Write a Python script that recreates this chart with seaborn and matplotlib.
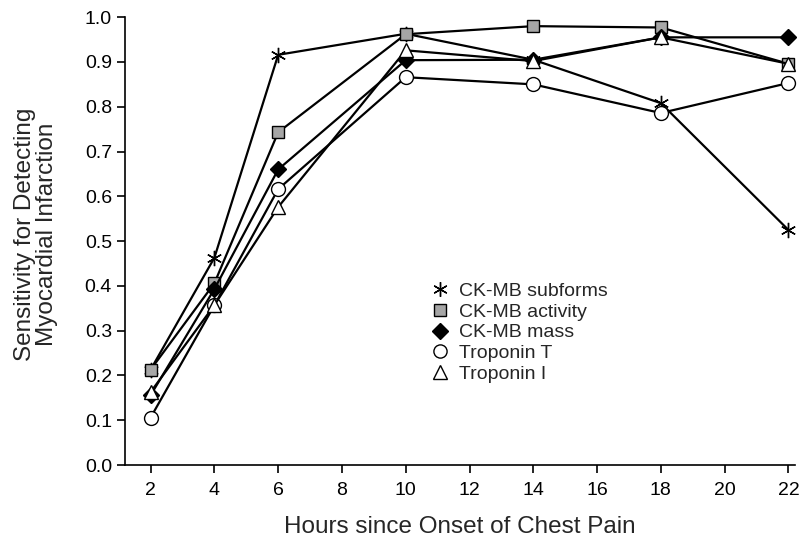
import pandas as pd
import seaborn as sns
import matplotlib.pyplot as plt
from matplotlib.lines import Line2D

hours = [2, 4, 6, 10, 14, 18, 22]
ckmb_subforms = [0.213, 0.463, 0.916, 0.963, 0.905, 0.808, 0.525]
ckmb_activity = [0.213, 0.406, 0.743, 0.962, 0.980, 0.977, 0.896]
ckmb_mass = [0.156, 0.393, 0.660, 0.904, 0.905, 0.955, 0.955]
troponin_t = [0.106, 0.357, 0.616, 0.866, 0.850, 0.786, 0.853]
troponin_i = [0.163, 0.357, 0.576, 0.926, 0.902, 0.955, 0.896]

series = {
    'CK-MB subforms': ckmb_subforms,
    'CK-MB activity': ckmb_activity,
    'CK-MB mass': ckmb_mass,
    'Troponin T': troponin_t,
    'Troponin I': troponin_i,
}

# marker, face colour, size
styles = {
    'CK-MB subforms': ((6, 2, 0), 'black', 11),
    'CK-MB activity': ('s', '#a6a6a6', 9),
    'CK-MB mass': ('D', 'black', 8.5),
    'Troponin T': ('o', 'white', 10),
    'Troponin I': ('^', 'white', 10),
}

sns.set_style("white")
plt.rcParams['font.family'] = ['Liberation Sans', 'DejaVu Sans']

fig = plt.figure(figsize=(8.02, 5.37), dpi=100)
ax = fig.add_axes([0.156, 0.134, 0.835, 0.834])

for name, vals in series.items():
    df = pd.DataFrame({'Hours': hours, 'Sens': vals})
    m, fc, ms = styles[name]
    sns.lineplot(data=df, x='Hours', y='Sens', ax=ax, color='black',
                 linewidth=1.6, marker=m, markersize=ms,
                 markerfacecolor=fc, markeredgecolor='black',
                 markeredgewidth=1.0, clip_on=False)

ax.set_xlim(1.2, 22.2)
ax.set_ylim(0, 1.0)
ax.set_xticks(range(2, 23, 2))
ax.set_yticks([i / 10 for i in range(11)])
ax.set_yticklabels(['%.1f' % (i / 10) for i in range(11)])
ax.tick_params(axis='both', direction='out', length=6, width=1.2,
               labelsize=14, colors='black', left=True, bottom=True)
ax.tick_params(axis='x', pad=6)
ax.set_xlabel('Hours since Onset of Chest Pain', fontsize=17.5)
ax.set_ylabel('Sensitivity for Detecting\nMyocardial Infarction',
              fontsize=17.5, linespacing=1.0)
ax.xaxis.set_label_coords(0.5, -0.113)
ax.yaxis.set_label_coords(-0.1, 0.515)
for s in ['top', 'right']:
    ax.spines[s].set_visible(False)
for s in ['left', 'bottom']:
    ax.spines[s].set_color('black')
    ax.spines[s].set_linewidth(1.2)

handles = []
for name in series:
    m, fc, ms = styles[name]
    handles.append(Line2D([], [], linestyle='none', marker=m,
                          markersize=ms * 0.95, markerfacecolor=fc,
                          markeredgecolor='black', color='black'))
ax.legend(handles, list(series.keys()), loc='upper left',
          bbox_to_anchor=(0.456, 0.408), frameon=False, fontsize=14,
          handlelength=0.95, handletextpad=0.5, labelspacing=0.16,
          borderpad=0, borderaxespad=0)

fig.savefig('out.png', dpi=100)
